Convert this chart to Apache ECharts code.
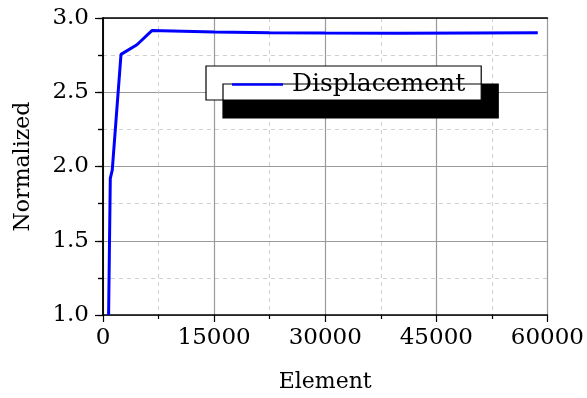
<!DOCTYPE html>
<html>
<head>
<meta charset="utf-8">
<script src="https://cdn.jsdelivr.net/npm/echarts@6/dist/echarts.min.js"></script>
<style>
  html, body { margin: 0; padding: 0; background: #fff; }
  #chart { width: 587px; height: 398px; }
</style>
</head>
<body>
<div id="chart"></div>
<script>
// Element count vs. normalized displacement
const elements = [755, 985, 1250, 2430, 4580, 6600, 15000, 22500, 30000, 40000, 50000, 58700];
const displacement = [1.0, 1.92, 1.975, 2.755, 2.82, 2.915, 2.906, 2.901, 2.899, 2.897, 2.899, 2.900];
const seriesName = 'Displacement';
const xTicks = { min: 0, max: 60000, interval: 15000 };
const yTicks = { min: 1.0, max: 3.0, interval: 0.5 };

const FONT = 'DejaVu Serif';
const chart = echarts.init(document.getElementById('chart'), null, { renderer: 'canvas' });

const gridLine = { show: true, lineStyle: { color: '#9a9a9a', width: 1.2 } };
const minorLine = { show: true, lineStyle: { color: '#cfcfcf', width: 1, type: [4, 4] } };

chart.setOption({
  animation: false,
  backgroundColor: '#ffffff',
  grid: { left: 103, right: 39, top: 18, bottom: 80, containLabel: false },
  legend: {
    data: [seriesName],
    left: 206, top: 66,
    itemWidth: 51, itemHeight: 14, itemGap: 0,
    padding: [6, 16, 3, 26],
    backgroundColor: '#ffffff',
    borderColor: '#000', borderWidth: 1.2, borderRadius: 0,
    shadowColor: '#000', shadowBlur: 0, shadowOffsetX: 17, shadowOffsetY: 18,
    icon: 'path://M0,6 L51,6 L51,8.5 L0,8.5 Z',
    textStyle: { fontFamily: FONT, fontSize: 25, color: '#000', padding: [0, 0, 0, 4] }
  },
  xAxis: [{
    type: 'value', min: xTicks.min, max: xTicks.max, interval: xTicks.interval,
    name: 'Element', nameLocation: 'middle', nameGap: 56,
    nameTextStyle: { fontFamily: FONT, fontSize: 22, color: '#000' },
    axisLine: { show: true, onZero: false, lineStyle: { color: '#000', width: 1.5 } },
    axisTick: { show: true, length: 7, lineStyle: { color: '#000', width: 1.2 } },
    minorTick: { show: true, splitNumber: 2, length: 4, lineStyle: { color: '#000', width: 1.2 } },
    axisLabel: { fontFamily: FONT, fontSize: 23, color: '#000', margin: 12,
      formatter: v => String(v) },
    splitLine: gridLine,
    minorSplitLine: minorLine
  }, {
    type: 'value', position: 'top', min: xTicks.min, max: xTicks.max, interval: xTicks.interval,
    axisLine: { show: true, lineStyle: { color: '#000', width: 1.5 } },
    axisTick: { show: false }, axisLabel: { show: false }, splitLine: { show: false }
  }],
  yAxis: [{
    type: 'value', min: yTicks.min, max: yTicks.max, interval: yTicks.interval,
    name: 'Normalized', nameLocation: 'middle', nameGap: 69, nameRotate: 90,
    nameTextStyle: { fontFamily: FONT, fontSize: 22, color: '#000' },
    axisLine: { show: true, onZero: false, lineStyle: { color: '#000', width: 1.5 } },
    axisTick: { show: true, length: 8, lineStyle: { color: '#000', width: 1.2 } },
    minorTick: { show: true, splitNumber: 2, length: 5, lineStyle: { color: '#000', width: 1.2 } },
    axisLabel: { fontFamily: FONT, fontSize: 23, color: '#000', margin: 14,
      formatter: v => v.toFixed(1) },
    splitLine: gridLine,
    minorSplitLine: minorLine
  }, {
    type: 'value', position: 'right', min: yTicks.min, max: yTicks.max, interval: yTicks.interval,
    axisLine: { show: true, lineStyle: { color: '#000', width: 1.5 } },
    axisTick: { show: true, inside: true, length: 5, lineStyle: { color: '#000', width: 1.2 } },
    minorTick: { show: true, splitNumber: 2, length: 5, lineStyle: { color: '#000', width: 1.2 } },
    axisLabel: { show: false }, splitLine: { show: false }
  }],
  series: [{
    name: seriesName,
    type: 'line',
    data: elements.map((x, i) => [x, displacement[i]]),
    showSymbol: false,
    symbol: 'none',
    lineStyle: { color: '#0000ff', width: 3 },
    itemStyle: { color: '#0000ff' }
  }]
});
</script>
</body>
</html>
